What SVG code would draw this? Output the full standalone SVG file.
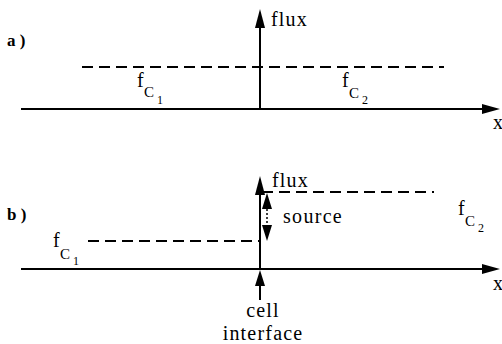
<svg xmlns="http://www.w3.org/2000/svg" width="502" height="344" viewBox="0 0 502 344">
<style>
.ax{stroke:#000;stroke-width:2;fill:none}
.dash{stroke:#000;stroke-width:1.8;stroke-dasharray:11 6;fill:none}
.head{fill:#000}
</style>
<rect width="502" height="344" fill="#fff"/>
<g id="panel-a">
  <text x="7" y="46" font-family="Liberation Serif" font-size="17" font-weight="bold">a )</text>
  <g id="a-axes">
    <line class="ax" x1="21" y1="109" x2="486" y2="109"/>
    <polygon class="head" points="500,109 482,104 482,114"/>
    <line class="ax" x1="260" y1="109" x2="260" y2="24"/>
    <polygon class="head" points="260,9 255,28 265,28"/>
    <text x="271" y="26" font-family="Liberation Serif" font-size="20" letter-spacing="1.2">flux</text>
    <text x="493" y="129" font-family="Liberation Serif" font-size="20">x</text>
  </g>
  <line class="dash" x1="82" y1="67" x2="444" y2="67"/>
  <g id="a-fc1"><text x="137" y="87" font-family="Liberation Serif" font-size="20">f</text><text x="144" y="97" font-family="Liberation Serif" font-size="15">C</text><text x="157" y="104" font-family="Liberation Serif" font-size="12">1</text></g>
  <g id="a-fc2"><text x="342" y="87" font-family="Liberation Serif" font-size="20">f</text><text x="349" y="98" font-family="Liberation Serif" font-size="15">C</text><text x="362" y="104" font-family="Liberation Serif" font-size="12">2</text></g>
</g>
<g id="panel-b">
  <text x="7" y="220" font-family="Liberation Serif" font-size="17" font-weight="bold">b )</text>
  <g id="b-axes">
    <line class="ax" x1="21" y1="269" x2="486" y2="269"/>
    <polygon class="head" points="500,269 482,264 482,274"/>
    <line class="ax" x1="260" y1="269" x2="260" y2="190"/>
    <polygon class="head" points="260,176 255,195 265,195"/>
    <text x="272" y="187" font-family="Liberation Serif" font-size="20" letter-spacing="1.2">flux</text>
    <text x="493" y="290" font-family="Liberation Serif" font-size="20">x</text>
  </g>
  <line class="dash" x1="262" y1="192" x2="434" y2="192"/>
  <line class="dash" x1="88" y1="241" x2="260" y2="241"/>
  <g id="source-arrow">
    <line x1="267" y1="205" x2="267" y2="228" stroke="#000" stroke-width="1.5" stroke-dasharray="2 2"/>
    <polygon class="head" points="267,193 262,209 272,209"/>
    <polygon class="head" points="267,241 262,225 272,225"/>
    <text x="283" y="223" font-family="Liberation Serif" font-size="20" letter-spacing="1.3">source</text>
  </g>
  <g id="b-fc1"><text x="53" y="247" font-family="Liberation Serif" font-size="20">f</text><text x="60" y="259" font-family="Liberation Serif" font-size="15">C</text><text x="73" y="265" font-family="Liberation Serif" font-size="12">1</text></g>
  <g id="b-fc2"><text x="458" y="215" font-family="Liberation Serif" font-size="20">f</text><text x="465" y="226" font-family="Liberation Serif" font-size="15">C</text><text x="478" y="232" font-family="Liberation Serif" font-size="12">2</text></g>
  <g id="cell-interface">
    <line class="ax" x1="260" y1="300" x2="260" y2="282"/>
    <polygon class="head" points="260,270 255,286 265,286"/>
    <text x="263" y="317" text-anchor="middle" font-family="Liberation Serif" font-size="20" letter-spacing="1.2">cell</text>
    <text x="263" y="340" text-anchor="middle" font-family="Liberation Serif" font-size="20" letter-spacing="1.2">interface</text>
  </g>
</g>
</svg>
